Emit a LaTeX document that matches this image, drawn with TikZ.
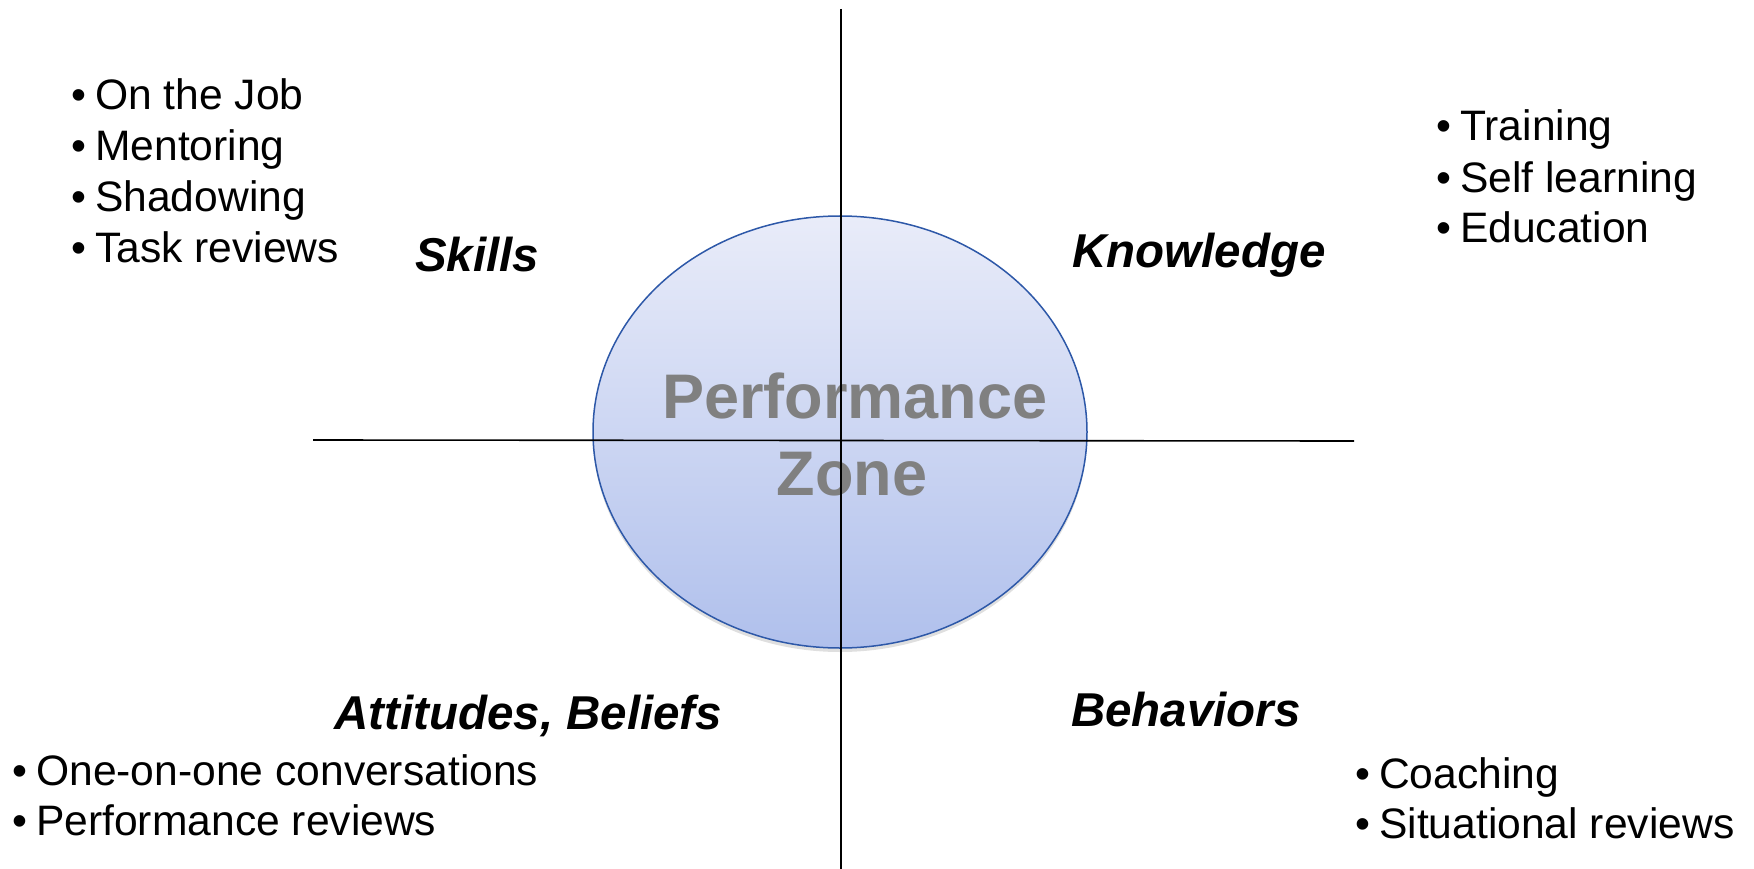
\documentclass[tikz,border=0pt]{standalone}
\usepackage{fontspec}
\setmainfont{Liberation Sans}
\usetikzlibrary{shadows,shapes.geometric}
\definecolor{ellTop}{RGB}{233,236,249}
\definecolor{ellBot}{RGB}{176,192,236}
\definecolor{ellLine}{RGB}{45,88,168}
\definecolor{zoneGray}{RGB}{128,128,128}
\tikzset{
  item/.style={anchor=base west, inner sep=0pt, font=\fontsize{42.6}{50}\selectfont},
  head/.style={anchor=base west, inner sep=0pt, font=\fontsize{47.5}{56}\selectfont\bfseries\itshape},
  zone/.style={anchor=base, inner sep=0pt, text=zoneGray, font=\fontsize{63}{75}\selectfont\bfseries},
  axis/.style={draw=black, line width=1.6pt},
}
\newcommand{\bul}{\makebox[24pt][l]{•}}
\begin{document}
\begin{tikzpicture}[x=1pt,y=-1pt]
\useasboundingbox (0,0) rectangle (1754,869);
% central ellipse
\node[ellipse, minimum width=494pt, minimum height=432pt, inner sep=0pt,
      top color=ellTop, bottom color=ellBot, draw=ellLine, line width=1.5pt,
      drop shadow={opacity=0.25, shadow xshift=0pt, shadow yshift=-4pt}] (ell) at (840,432) {};
\node[zone] (perf) at (855,418) {Performance};
\node[zone] (zn) at (852,495) {Zone};
% axes
\coordinate (vtop) at (841,9);
\coordinate (vbot) at (841,869);
\coordinate (hleft) at (313,440);
\coordinate (hright) at (1354,441);
\draw[axis] (vtop) -- (vbot);
\draw[axis] (hleft) -- (hright);
% headings
\node[head] (skills) at (415,272) {Skills};
\node[head] (know) at (1072,267) {Knowledge};
\node[head] (att) at (334,729) {Attitudes, Beliefs};
\node[head] (beh) at (1071,726) {Behaviors};
% skills list
\node[item] (s1) at (71,109.5) {\bul On the Job};
\node[item] (s2) at (71,160.5) {\bul Mentoring};
\node[item] (s3) at (71,211.5) {\bul Shadowing};
\node[item] (s4) at (71,262.5) {\bul Task reviews};
% knowledge list
\node[item] (k1) at (1436,141) {\bul Training};
\node[item] (k2) at (1436,193) {\bul Self learning};
\node[item] (k3) at (1436,243) {\bul Education};
% attitudes list
\node[item] (a1) at (12,785.5) {\bul One-on-one conversations};
\node[item] (a2) at (12,835.5) {\bul Performance reviews};
% behaviors list
\node[item] (b1) at (1355,788.5) {\bul Coaching};
\node[item] (b2) at (1355,838.5) {\bul Situational reviews};
\end{tikzpicture}
\end{document}
